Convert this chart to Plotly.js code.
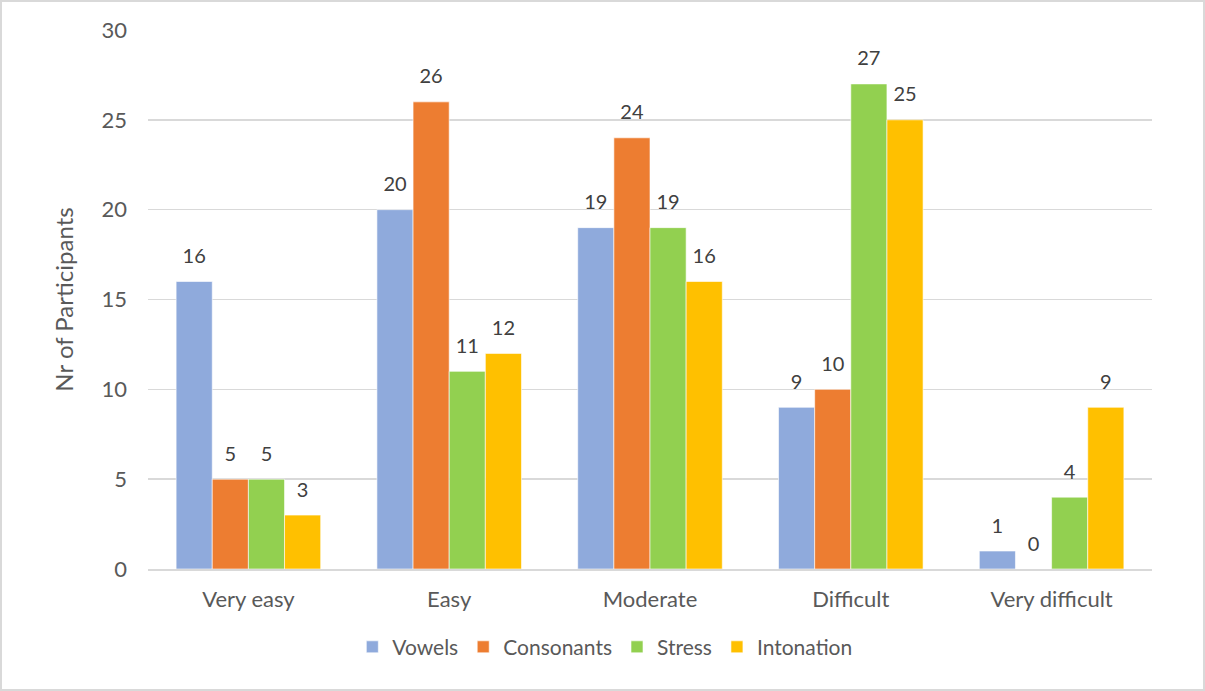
<!DOCTYPE html>
<html><head><meta charset="utf-8">
<script src="https://cdn.plot.ly/plotly-3.0.1.min.js"></script>
<style>
html,body{margin:0;padding:0;background:#fff;}
#chart{width:1205px;height:691px;box-sizing:border-box;border:2px solid #d9d9d9;}
</style></head>
<body><div id="chart"></div>
<script>
const categories = ["Very easy", "Easy", "Moderate", "Difficult", "Very difficult"];
const seriesNames = ["Vowels", "Consonants", "Stress", "Intonation"];
const vowels = [16, 20, 19, 9, 1];
const consonants = [5, 26, 24, 10, 0];
const stress = [5, 11, 19, 27, 4];
const intonation = [3, 12, 16, 25, 9];
const colors = ["#8faadc", "#ed7d31", "#92d050", "#ffc000"];

const values = [vowels, consonants, stress, intonation];
const barTraces = values.map((v, i) => ({
  type: "bar",
  name: seriesNames[i],
  x: categories,
  y: v,
  marker: {color: colors[i], line: {color: "#ffffff", width: 0.6}},
  hoverinfo: "skip"
}));
const labelTraces = values.map((v, i) => ({
  type: "scatter",
  mode: "markers+text",
  name: seriesNames[i] + " labels",
  x: categories,
  y: v,
  text: v.map(String),
  textposition: "top center",
  marker: {size: 20, opacity: 0, color: colors[i]},
  textfont: {family: "Lato, 'Open Sans', sans-serif", size: 20, color: "#404040"},
  cliponaxis: false,
  showlegend: false,
  hoverinfo: "skip"
}));

const layout = {
  width: 1201, height: 687,
  margin: {l: 146, r: 51, t: 28, b: 120},
  paper_bgcolor: "#ffffff",
  plot_bgcolor: "#ffffff",
  barmode: "group",
  bargap: 0.28,
  bargroupgap: 0,
  scattermode: "group",
  scattergap: 0.28,
  font: {family: "Lato, 'Open Sans', sans-serif", size: 20, color: "#595959"},
  xaxis: {
    type: "category",
    showgrid: false,
    showline: true, linecolor: "#d9d9d9", linewidth: 1.5,
    ticks: "",
    ticklabelstandoff: 10,
    tickfont: {size: 22, color: "#595959"}
  },
  yaxis: {
    range: [0, 30],
    dtick: 5,
    showgrid: true, gridcolor: "#d9d9d9", gridwidth: 1.5,
    zeroline: false,
    showline: false,
    ticks: "",
    ticklabelstandoff: 20,
    tickfont: {size: 22, color: "#595959"},
    title: {text: "Nr of Participants", font: {size: 24, color: "#595959"}, standoff: 21}
  },
  legend: {
    orientation: "h",
    x: 0.455, xanchor: "center",
    y: -0.107, yanchor: "top",
    font: {size: 21, color: "#595959"},
    itemclick: false
  },
  showlegend: true
};

Plotly.newPlot("chart", barTraces.concat(labelTraces), layout, {displayModeBar: false, staticPlot: true});
</script></body></html>
